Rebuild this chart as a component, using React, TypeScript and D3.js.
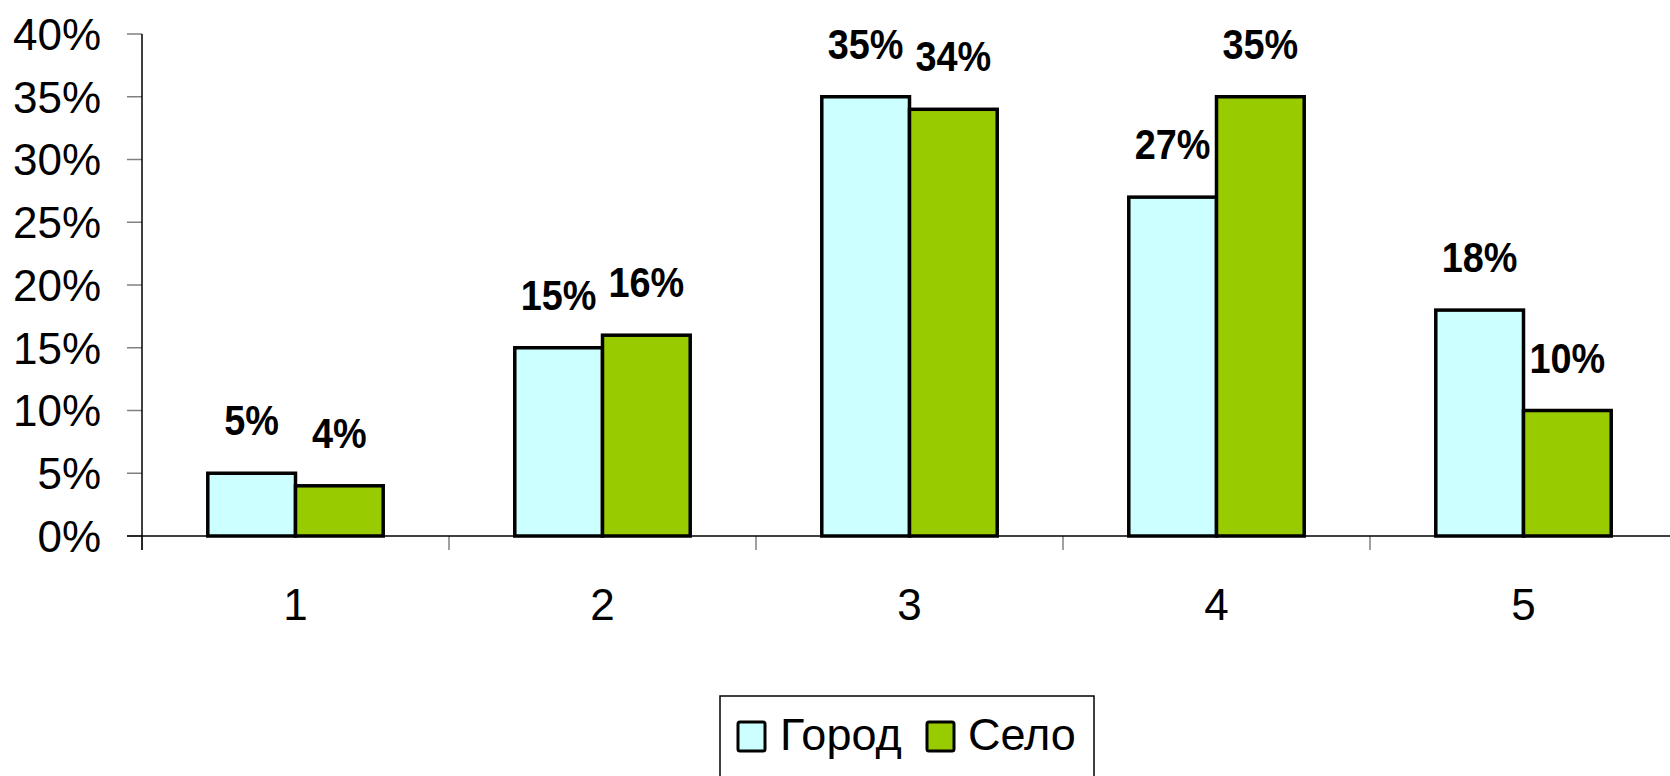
import React from "react";
import * as d3 from "d3";

const categories = ["1", "2", "3", "4", "5"];
const seriesNames = ["Город", "Село"];
const gorod = [5, 15, 35, 27, 18];
const selo = [4, 16, 34, 35, 10];
const seriesColors = ["#CCFFFF", "#99CC00"];
const yTicks = [0, 5, 10, 15, 20, 25, 30, 35, 40];

const W = 1670;
const H = 776;
const FONT = "'Liberation Sans', Arial, sans-serif";

export default function App() {
  const left = 142;
  const top = 34;
  const bottom = 536;
  const step = 307;
  const right = left + step * categories.length;

  const x0 = d3.scaleBand<string>().domain(categories).range([left, right]).padding(0);
  const x1 = d3
    .scaleBand<string>()
    .domain(seriesNames)
    .range([0, x0.bandwidth()])
    .paddingInner(0)
    .paddingOuter(0.75);
  const y = d3.scaleLinear().domain([0, 40]).range([bottom, top]);

  const data = [gorod, selo];
  const boundaries = categories.map((c) => x0(c) as number).concat([right]);

  return (
    <svg
      width={W}
      height={H}
      style={{ position: "absolute", left: 0, top: 0, background: "#fff" }}
      fontFamily={FONT}
    >
      <rect x={0} y={0} width={W} height={H} fill="#fff" />
      {/* y ticks */}
      {yTicks.map((t) => (
        <g key={t}>
          <line x1={left - 15} x2={left} y1={y(t)} y2={y(t)} stroke="#808080" strokeWidth={1.5} />
          <text x={101} y={y(t)} dy="0.36em" textAnchor="end" fontSize={44} fill="#000">
            {t}%
          </text>
        </g>
      ))}
      {/* x ticks */}
      {boundaries.map((b, i) => (
        <line key={i} x1={b} x2={b} y1={bottom} y2={bottom + 14} stroke="#808080" strokeWidth={1.5} />
      ))}
      {/* bars */}
      {categories.map((c, ci) =>
        seriesNames.map((s, si) => {
          const v = data[si][ci];
          const bx = (x0(c) as number) + (x1(s) as number);
          return (
            <rect
              key={c + s}
              x={bx}
              y={y(v)}
              width={x1.bandwidth()}
              height={bottom - y(v)}
              fill={seriesColors[si]}
              stroke="#000"
              strokeWidth={3.5}
            />
          );
        })
      )}
      {/* axes lines */}
      <line x1={left} x2={left} y1={top} y2={bottom + 14} stroke="#000" strokeWidth={1.5} />
      <line x1={left - 15} x2={W} y1={bottom} y2={bottom} stroke="#000" strokeWidth={1.5} />
      {/* data labels */}
      {categories.map((c, ci) =>
        seriesNames.map((s, si) => {
          const v = data[si][ci];
          const cx = (x0(c) as number) + (x1(s) as number) + x1.bandwidth() / 2;
          return (
            <text
              key={"l" + c + s}
              transform={`translate(${cx},${y(v) - 38}) scale(0.88,1)`}
              textAnchor="middle"
              fontSize={43}
              fontWeight="bold"
              fill="#000"
            >
              {v}%
            </text>
          );
        })
      )}
      {/* category labels */}
      {categories.map((c) => (
        <text
          key={"c" + c}
          x={(x0(c) as number) + x0.bandwidth() / 2}
          y={620}
          textAnchor="middle"
          fontSize={44}
          fill="#000"
        >
          {c}
        </text>
      ))}
      {/* legend */}
      <rect x={720} y={696} width={374} height={120} fill="#fff" stroke="#000" strokeWidth={1.5} />
      <rect x={738} y={722} width={27} height={29} fill={seriesColors[0]} stroke="#000" strokeWidth={3} rx={2} />
      <text x={780} y={750} fontSize={45} fill="#000">
        {seriesNames[0]}
      </text>
      <rect x={927} y={722} width={27} height={29} fill={seriesColors[1]} stroke="#000" strokeWidth={3} rx={2} />
      <text x={968} y={750} fontSize={45} fill="#000">
        {seriesNames[1]}
      </text>
    </svg>
  );
}
